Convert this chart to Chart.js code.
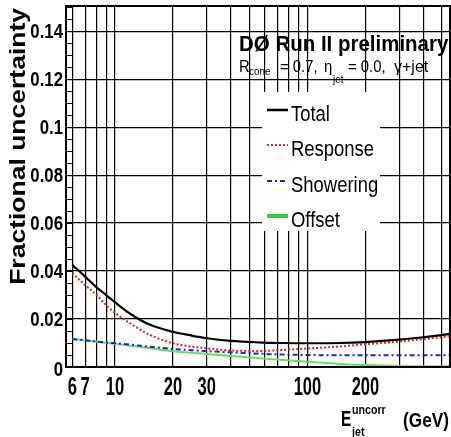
<!DOCTYPE html>
<html>
<head>
<meta charset="utf-8">
<script src="https://cdn.jsdelivr.net/npm/chart.js@4"></script>
<style>
  html, body { margin: 0; padding: 0; background: #fff; }
  #wrap { width: 451px; height: 437px; }
</style>
</head>
<body>
<div id="wrap"><canvas id="chart" width="451" height="437"></canvas></div>
<script>
// jet energy (GeV) where the curves are sampled
const energies = [6, 7, 8, 9, 10, 12, 15, 20, 25, 30, 40, 55, 75, 100, 150, 200, 300, 400, 550];

const total     = [0.0426, 0.0377, 0.0333, 0.0300, 0.0270, 0.0222, 0.0178, 0.0147, 0.0131, 0.0120, 0.0109, 0.0103, 0.0100, 0.0099, 0.0100, 0.0104, 0.0114, 0.0124, 0.0138];
const response  = [0.0391, 0.0342, 0.0302, 0.0258, 0.0226, 0.0182, 0.0136, 0.0099, 0.0085, 0.0078, 0.0069, 0.0067, 0.0071, 0.0077, 0.0086, 0.0095, 0.0106, 0.0116, 0.0128];
const showering = [0.0117, 0.0111, 0.0106, 0.0102, 0.0099, 0.0093, 0.0085, 0.0075, 0.0070, 0.0066, 0.0061, 0.0056, 0.0052, 0.0050, 0.0049, 0.0049, 0.0049, 0.0049, 0.0049];
const offset    = [0.0117, 0.0111, 0.0106, 0.0101, 0.0097, 0.0089, 0.0079, 0.0066, 0.0059, 0.0054, 0.0046, 0.0037, 0.0029, 0.0022, 0.0013, 0.0008, 0.0004, 0.0003, 0.0003];

// axis ticks
const xGridValues = [6, 7, 8, 9, 10, 20, 30, 40, 50, 60, 70, 80, 90, 100, 200, 300, 400, 500];
const xTickLabels = ['6', '7', '10', '20', '30', '100', '200'];
const yTickValues = [0, 0.02, 0.04, 0.06, 0.08, 0.1, 0.12, 0.14];
const yTickLabels = ['0', '0.02', '0.04', '0.06', '0.08', '0.1', '0.12', '0.14'];

const FONT = '"Liberation Sans", Arial, sans-serif';

// horizontally condensed text (narrow Helvetica look)
function text(ctx, str, x, y, font, sx, align) {
  ctx.save();
  ctx.font = font + ' ' + FONT;
  ctx.textAlign = align || 'left';
  ctx.scale(sx, 1);
  ctx.fillText(str, x / sx, y);
  ctx.restore();
}

// frame, tick labels, minor ticks, header, legend and axis titles
const decorations = {
  id: 'decorations',
  afterDraw(chart) {
    const ctx = chart.ctx;
    const a = chart.chartArea;
    const xs = chart.scales.x;
    const ys = chart.scales.y;
    ctx.save();
    ctx.fillStyle = '#000';
    ctx.strokeStyle = '#000';

    // minor ticks on the y axis
    ctx.lineWidth = 1;
    for (let v = 0.005; v <= 0.1501; v += 0.005) {
      const py = Math.round(ys.getPixelForValue(v)) + 0.5;
      ctx.beginPath();
      ctx.moveTo(a.left, py);
      ctx.lineTo(a.left + 6, py);
      ctx.stroke();
    }

    // frame
    ctx.lineWidth = 2;
    ctx.strokeRect(a.left, a.top, a.right - a.left, a.bottom - a.top);

    // tick labels
    ctx.textBaseline = 'middle';
    yTickValues.forEach((v, i) => {
      const dy = v === 0 ? 3 : 1;
      text(ctx, yTickLabels[i], a.left - 3, ys.getPixelForValue(v) + dy, 'bold 20px', 0.84, 'right');
    });
    ctx.textBaseline = 'alphabetic';
    xTickLabels.forEach((lab) => {
      text(ctx, lab, xs.getPixelForValue(Number(lab)), a.bottom + 28, 'bold 25px', 0.66, 'center');
    });

    // header
    text(ctx, 'DØ Run II preliminary', 239, 51, 'bold 22.5px', 0.91);
    text(ctx, 'R', 239, 72, '16.5px', 0.9);
    text(ctx, 'cone', 249, 75, '11px', 0.9);
    text(ctx, '= 0.7,', 280, 72, '16.5px', 0.9);
    text(ctx, 'η', 324, 72, '16.5px', 0.9);
    text(ctx, 'jet', 333, 83, '11px', 0.9);
    text(ctx, '= 0.0,', 348, 72, '16.5px', 0.9);
    text(ctx, 'γ+jet', 394, 72, '16.5px', 0.97);

    // legend
    ctx.fillStyle = '#fff';
    ctx.fillRect(262, 92, 118, 139);
    ctx.fillStyle = '#000';
    const rows = [110, 145, 181, 216];
    chart.data.datasets.forEach((ds, i) => {
      const ry = rows[i];
      ctx.strokeStyle = ds.legendColor || ds.borderColor;
      ctx.lineWidth = ds.legendWidth;
      ctx.setLineDash(ds.borderDash || []);
      ctx.beginPath();
      ctx.moveTo(267, ry);
      ctx.lineTo(288, ry);
      ctx.stroke();
      ctx.setLineDash([]);
      text(ctx, ds.label, 291, ry + 11, '22.5px', 0.82);
    });

    // x axis title
    text(ctx, 'E', 341, 426, 'bold 22px', 0.7);
    text(ctx, 'uncorr', 352, 414, 'bold 13px', 0.82);
    text(ctx, 'jet', 352, 436, 'bold 13px', 0.82);
    text(ctx, '(GeV)', 403, 427, 'bold 21px', 0.82);

    // y axis title
    ctx.translate(25, 8);
    ctx.scale(0.82, 1);
    ctx.rotate(-Math.PI / 2);
    ctx.textAlign = 'right';
    ctx.font = 'bold 26.5px ' + FONT;
    ctx.fillText('Fractional uncertainty', 0, 0);

    ctx.restore();
  }
};

const data = {
  labels: energies,
  datasets: [
    {
      label: 'Total',
      data: total,
      borderColor: '#000000',
      borderWidth: 2.2,
      legendWidth: 2.5
    },
    {
      label: 'Response',
      data: response,
      borderColor: '#dd2222',
      borderWidth: 2,
      borderDash: [2, 2],
      legendWidth: 2
    },
    {
      label: 'Showering',
      data: showering,
      borderColor: '#2020cc',
      borderWidth: 2,
      borderDash: [5, 3, 2, 3],
      legendWidth: 2
    },
    {
      label: 'Offset',
      data: offset,
      borderColor: '#66dd66',
      legendColor: '#33cc33',
      borderWidth: 2,
      legendWidth: 4,
      order: 1
    }
  ]
};

const config = {
  type: 'line',
  data: data,
  options: {
    responsive: false,
    animation: false,
    layout: { padding: { top: 6, right: 1, left: 0, bottom: 0 } },
    elements: {
      point: { radius: 0 },
      line: { cubicInterpolationMode: 'monotone', fill: false }
    },
    plugins: {
      legend: { display: false },
      tooltip: { enabled: false }
    },
    scales: {
      x: {
        type: 'logarithmic',
        min: 5.57,
        max: 550,
        afterBuildTicks: (scale) => {
          scale.ticks = xGridValues.map(v => ({ value: v }));
        },
        afterFit: (scale) => { scale.height = 70; },
        grid: { color: '#000', lineWidth: 1.2, drawTicks: false },
        border: { display: false },
        ticks: { display: false }
      },
      y: {
        type: 'linear',
        min: 0,
        max: 0.1505,
        afterBuildTicks: (scale) => {
          scale.ticks = yTickValues.map(v => ({ value: v }));
        },
        afterFit: (scale) => { scale.width = 66; },
        grid: { color: '#000', lineWidth: 1.2, drawTicks: false },
        border: { display: false },
        ticks: { display: false }
      }
    }
  },
  plugins: [decorations]
};

const myChart = new Chart(
  document.getElementById('chart'),
  config
);
</script>
</body>
</html>
